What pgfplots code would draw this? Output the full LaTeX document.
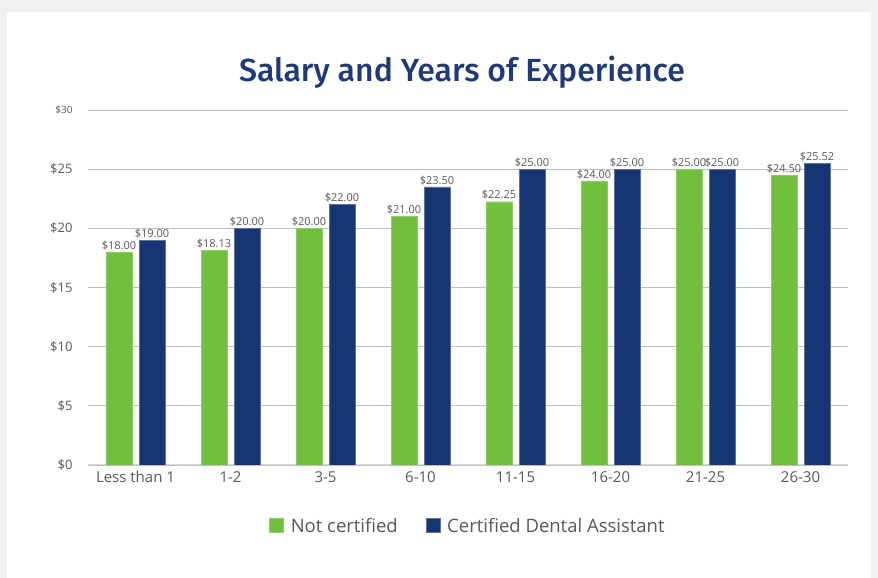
\documentclass[border=0pt]{standalone}
\usepackage{fontspec}
\setmainfont{Open Sans}
\newfontfamily\titlefont{Fira Sans}[UprightFont=* Medium]
\usepackage{pgfplots}
\pgfplotsset{compat=1.18}
\definecolor{green}{RGB}{112,192,62}
\definecolor{navy}{RGB}{22,54,115}
\definecolor{ttl}{RGB}{31,58,120}
\definecolor{txt}{RGB}{89,89,89}
\definecolor{grid}{RGB}{217,217,217}
\begin{document}
\begin{tikzpicture}[x=1pt,y=1pt]
\fill[black!6] (0,0) rectangle (878,578);
\fill[white] (7,0) rectangle (871,566);
\node[font=\titlefont\fontsize{32}{36}\selectfont, text=ttl] at (462,506) {Salary and Years of Experience};
\begin{axis}[at={(88pt,113pt)}, anchor=south west, scale only axis,
  width=760pt, height=355pt,
  ybar=7pt, bar width=26pt,
  xmin=-0.5, xmax=7.5, ymin=0, ymax=30,
  xtick={0,...,7},
  xticklabels={Less than 1,1-2,3-5,6-10,11-15,16-20,21-25,26-30},
  ytick={0,5,...,30},
  yticklabels={\$0,\$5,\$10,\$15,\$20,\$25,{\fontsize{10}{11}\selectfont\$30}},
  /pgf/number format/assume math mode=true,
  axis x line*=bottom, axis y line*=left,
  x axis line style={grid, line width=1pt, -},
  y axis line style={draw=none},
  xmajorgrids=false, ymajorgrids=true, grid style={grid, line width=0.8pt},
  major tick length=0pt,
  tick label style={text=txt},
  xticklabel style={font=\fontsize{15}{17}\selectfont, yshift=-3pt},
  yticklabel style={font=\fontsize{13}{15}\selectfont, xshift=-12pt},
  nodes near coords={\$\pgfmathprintnumber[fixed,fixed zerofill,precision=2]{\pgfplotspointmeta}},
  every node near coord/.append style={font=\fontsize{11}{12}\selectfont, text=txt, inner sep=2pt},
  legend columns=2,
  legend style={draw=none, fill=none, at={(0.5,-0.172)}, anchor=center,
    font=\fontsize{18.5}{21}\selectfont, text=txt,
    /tikz/every odd column/.append style={column sep=5pt},
    /tikz/every even column/.append style={column sep=26pt}},
  legend image code/.code={\fill[#1] (0pt,-6pt) rectangle (14pt,8pt);},
]
\addplot[fill=green, draw=green!80!white] coordinates {(0,18) (1,18.13) (2,20) (3,21) (4,22.25) (5,24) (6,25) (7,24.5)};
\addplot[fill=navy, draw=navy!70!white] coordinates {(0,19) (1,20) (2,22) (3,23.5) (4,25) (5,25) (6,25) (7,25.52)};
\legend{Not certified, Certified Dental Assistant}
\end{axis}
\end{tikzpicture}
\end{document}
